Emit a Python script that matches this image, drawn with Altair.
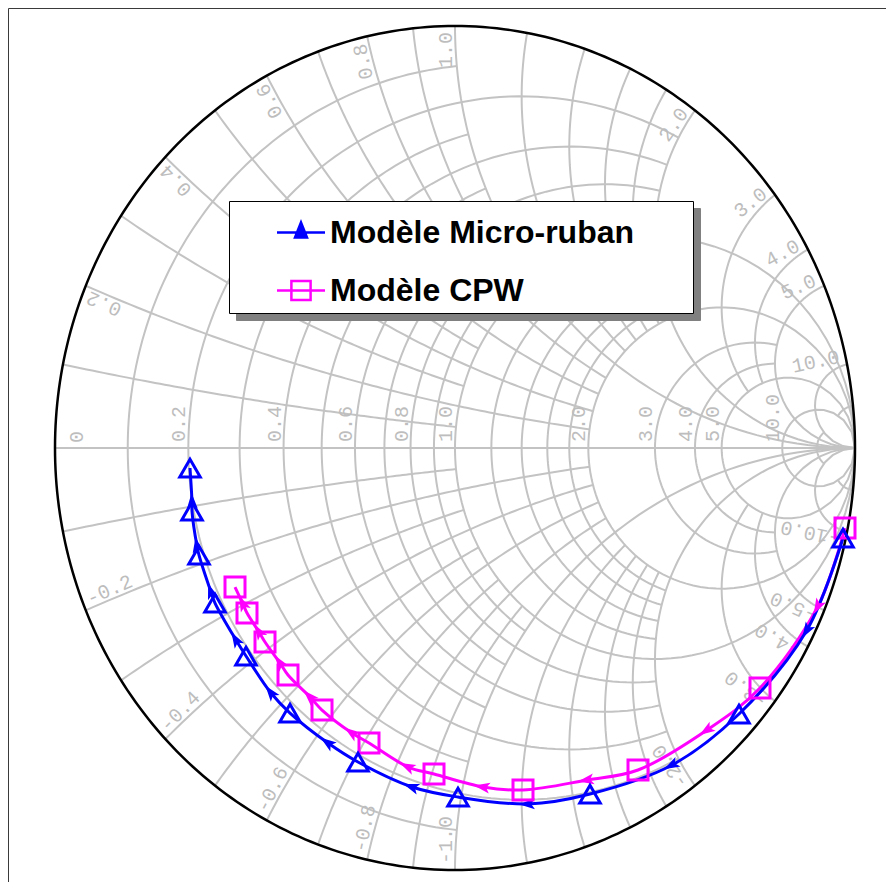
import math
import numpy as np
import pandas as pd
import altair as alt

# ---------------- layout ----------------
W, H = 878, 874
X_DOMAIN = [-1.1175, 1.0775]
Y_DOMAIN = [-1.0284, 1.0427]
SX = W / (X_DOMAIN[1] - X_DOMAIN[0])
SY = H / (Y_DOMAIN[1] - Y_DOMAIN[0])

# ---------------- Smith grid definition ----------------
BIG = 1e6
GRID_R = [0.1, 0.2, 0.3, 0.4, 0.5, 0.6, 0.7, 0.8, 0.9, 1.0,
          1.2, 1.4, 1.6, 1.8, 2.0, 3.0, 4.0, 5.0, 10.0, 20.0]
GRID_R_LIMIT = [1, 2, 1, 2, 1, 2, 1, 2, 1, BIG,
                2, 2, 2, 2, BIG, 5, 5, BIG, BIG, 10]
GRID_X = [0.1, 0.2, 0.3, 0.4, 0.5, 0.6, 0.7, 0.8, 0.9, 1.0,
          1.2, 1.4, 1.6, 1.8, 2.0, 3.0, 4.0, 5.0, 10.0, 20.0]
GRID_X_LIMIT = [1, 2, 1, 2, 1, 2, 1, 2, 1, BIG,
                2, 2, 2, 2, BIG, 5, 5, BIG, BIG, 10]
LABEL_VALUES = [0.2, 0.4, 0.6, 0.8, 1.0, 2.0, 3.0, 4.0, 5.0, 10.0]

# ---------------- data (reflection coefficient, in path order) ----------------
SERIES = ["Modèle Micro-ruban", "Modèle CPW"]

MICRO_RE = [0.970, 0.880, 0.710, 0.5425, 0.3375, 0.1825, 0.0075, -0.1075, -0.2425, -0.3175,
            -0.4125, -0.460, -0.5225, -0.5475, -0.600, -0.610, -0.640, -0.645, -0.6575, -0.6575, -0.6625]
MICRO_IM = [-0.2133, -0.4313, -0.6303, -0.7512, -0.8199, -0.8436, -0.8270, -0.8033, -0.7441, -0.6991,
            -0.6280, -0.5806, -0.4929, -0.4550, -0.3673, -0.3412, -0.2536, -0.2322, -0.1493, -0.1280, -0.0474]
MICRO_KIND = ["m", "a", "m", "a", "m", "a", "m", "a", "m", "a",
              "m", "a", "m", "a", "m", "a", "m", "a", "m", "a", "m"]

CPW_RE = [0.975, 0.9075, 0.7625, 0.630, 0.4575, 0.330, 0.170, 0.070, -0.0525, -0.1175,
          -0.215, -0.2575, -0.3325, -0.3625, -0.4175, -0.4375, -0.475, -0.490, -0.520, -0.530, -0.550]
CPW_IM = [-0.1896, -0.3744, -0.5687, -0.6682, -0.7630, -0.7867, -0.8104, -0.8033, -0.7725, -0.7559,
          -0.6991, -0.6754, -0.6209, -0.5900, -0.5379, -0.5095, -0.4597, -0.4360, -0.3910, -0.3697, -0.3294]
CPW_KIND = ["m", "a", "m", "a", "m", "a", "m", "a", "m", "a",
            "m", "a", "m", "a", "m", "a", "m", "a", "m", "a", "m"]

BLUE = "#0000FF"
MAGENTA = "#FF00FF"
GRID_COLOR = "#C3C3C3"


def smith(r, x):
    z = np.asarray(r, dtype=float) + 1j * np.asarray(x, dtype=float)
    g = (z - 1) / (z + 1)
    return g.real, g.imag


# grid curves
rows = []
cid = 0
for r, lim in zip(GRID_R, GRID_R_LIMIT):
    xs = np.tan(np.linspace(-math.atan(lim), math.atan(lim), 161))
    gx, gy = smith(np.full_like(xs, r), xs)
    rows += [dict(c=cid, k=i, gx=round(a, 4), gy=round(b, 4)) for i, (a, b) in enumerate(zip(gx, gy))]
    cid += 1
for xv, lim in zip(GRID_X, GRID_X_LIMIT):
    rs = np.tan(np.linspace(0, math.atan(lim), 101))
    for s in (1, -1):
        gx, gy = smith(rs, np.full_like(rs, s * xv))
        rows += [dict(c=cid, k=i, gx=round(a, 4), gy=round(b, 4)) for i, (a, b) in enumerate(zip(gx, gy))]
        cid += 1
rows += [dict(c=cid, k=0, gx=-1.0, gy=0.0), dict(c=cid, k=1, gx=1.0, gy=0.0)]
grid_df = pd.DataFrame(rows)

th = np.linspace(0, 2 * math.pi, 361)
rim_df = pd.DataFrame(dict(k=np.arange(len(th)), gx=np.round(np.cos(th), 5), gy=np.round(np.sin(th), 5)))

# labels
lab_left, lab_right = [], []
for v in LABEL_VALUES:
    txt = f"{v:.1f}"
    lab_left.append(dict(gx=(v - 1) / (v + 1), gy=0.0, a=270.0, t=txt))
    d = 1 + v * v
    ang = math.degrees(math.atan2(-(2 * v) * SY, (1 - v * v) * SX)) % 360
    lab_left.append(dict(gx=(v * v - 1) / d, gy=-2 * v / d, a=ang, t="-" + txt))
    ang = math.degrees(math.atan2(-(2 * v) * SY, (v * v - 1) * SX)) % 360
    lab_right.append(dict(gx=(v * v - 1) / d, gy=2 * v / d, a=ang, t=txt))
lab_left_df = pd.DataFrame(lab_left)
lab_right_df = pd.DataFrame(lab_right)
lab_zero_df = pd.DataFrame([dict(gx=-1.0, gy=0.0, a=270.0, t="0")])


def series_df(re, im, kind, name):
    n = len(re)
    out = []
    for i in range(n):
        j0, j1 = max(i - 1, 0), min(i + 1, n - 1)
        sx = (re[j1] - re[j0]) * SX
        sy = -(im[j1] - im[j0]) * SY
        ang = math.degrees(math.atan2(sx, -sy)) % 360
        out.append(dict(k=i, gx=re[i], gy=im[i], kind=kind[i], series=name, ang=round(ang, 2)))
    return pd.DataFrame(out)


micro_df = series_df(MICRO_RE, MICRO_IM, MICRO_KIND, SERIES[0])
cpw_df = series_df(CPW_RE, CPW_IM, CPW_KIND, SERIES[1])
both_df = pd.concat([micro_df, cpw_df], ignore_index=True)

XS = alt.Scale(domain=X_DOMAIN, nice=False, zero=False)
YS = alt.Scale(domain=Y_DOMAIN, nice=False, zero=False)
XAX = alt.Axis(orient="top", labels=False, ticks=False, grid=False, title=None,
               domainColor="#3A3A3A", domainWidth=1)
YAX = alt.Axis(orient="left", labels=False, ticks=False, grid=False, title=None,
               domainColor="#3A3A3A", domainWidth=1)


def X():
    return alt.X("gx:Q", scale=XS, axis=XAX, title=None)


def Y():
    return alt.Y("gy:Q", scale=YS, axis=YAX, title=None)


grid_layer = alt.Chart(grid_df).mark_line(color=GRID_COLOR, strokeWidth=2).encode(
    x=X(), y=Y(), detail="c:N", order="k:Q")
rim_layer = alt.Chart(rim_df).mark_line(color="black", strokeWidth=2.5).encode(
    x=X(), y=Y(), order="k:Q")

TXT = dict(font="Liberation Mono", fontSize=20, color="#BDBDBD", baseline="alphabetic")
lab_l = alt.Chart(lab_left_df).mark_text(align="left", dx=6, dy=-3, **TXT).encode(
    x=X(), y=Y(), text="t:N", angle=alt.Angle("a:Q", scale=None))
lab_r = alt.Chart(lab_right_df).mark_text(align="right", dx=-6, dy=-3, **TXT).encode(
    x=X(), y=Y(), text="t:N", angle=alt.Angle("a:Q", scale=None))
lab_0 = alt.Chart(lab_zero_df).mark_text(align="left", dx=5, dy=28, **TXT).encode(
    x=X(), y=Y(), text="t:N", angle=alt.Angle("a:Q", scale=None))


def line_layer(df, color):
    return alt.Chart(df).mark_line(color=color, strokeWidth=3, interpolate="catmull-rom").encode(
        x=X(), y=Y(), order="k:Q")


ARROW = "M0,-1L0.6,0.75L0,0.35L-0.6,0.75Z"


def arrow_layer(df, color):
    return alt.Chart(df).transform_filter(alt.datum.kind == "a").mark_point(
        shape=ARROW, filled=True, color=color, size=330, opacity=1).encode(
        x=X(), y=Y(), angle=alt.Angle("ang:Q", scale=None))


def marker_layer(df, color, shape, size):
    return alt.Chart(df).transform_filter(alt.datum.kind == "m").mark_point(
        shape=shape, filled=False, color=color, size=size, strokeWidth=3, opacity=1).encode(
        x=X(), y=Y())


TRI_PATH = ("M-1,0H1M0,-0.42L0.25,0.21L-0.25,0.21Z"
            "M0,-0.26L0.15,0.12L-0.15,0.12Z"
            "M0,-0.1L0.06,0.06L-0.06,0.06Z")
SQ_PATH = "M-1,0H1M-0.4,-0.4H0.4V0.4H-0.4Z"

LEG_COMMON = dict(
    title=".", titleOrient="right", titlePadding=52, titleFontSize=2, titleOpacity=0,
    orient="none", direction="vertical",
    labelFont="Liberation Sans", labelFontSize=32, labelFontWeight="bold",
    labelLimit=3000, labelOffset=3.5, symbolOffset=40.5,
    symbolSize=2304, symbolStrokeWidth=2.5, padding=6, rowPadding=16,
)
LX, LY = 221, 193

main_legend = alt.Legend(legendX=LX, legendY=LY, labelColor="black", symbolOpacity=1,
                         fillColor="white", strokeColor="black", **LEG_COMMON)
shadow_legend = alt.Legend(legendX=LX + 7, legendY=LY + 7, labelOpacity=0, symbolOpacity=0,
                           symbolType="M-1,0H1",
                           fillColor="#808080", strokeColor="#808080",
                           labelExpr="datum.value == 's1' ? 'Modèle Micro-ruban' : 'Modèle CPW'",
                           **LEG_COMMON)

shadow_layer = alt.Chart(both_df).transform_filter(alt.datum.kind == "m").transform_calculate(
    sh="datum.series == 'Modèle CPW' ? 's2' : 's1'").mark_point(
    filled=False, opacity=0, strokeWidth=2.5).encode(
    x=X(), y=Y(),
    color=alt.Color("sh:N", scale=alt.Scale(domain=["s1", "s2"], range=["#808080", "#808080"]),
                    legend=shadow_legend),
)

legend_layer = alt.Chart(both_df).transform_filter(alt.datum.kind == "m").mark_point(
    filled=False, opacity=0, strokeWidth=2.5).encode(
    x=X(), y=Y(),
    stroke=alt.Stroke("series:N", scale=alt.Scale(domain=SERIES, range=[BLUE, MAGENTA]),
                      legend=main_legend),
    shape=alt.Shape("series:N", scale=alt.Scale(domain=SERIES, range=[TRI_PATH, SQ_PATH]),
                    legend=main_legend),
)

chart = alt.layer(
    grid_layer, lab_l, lab_r, lab_0, rim_layer,
    line_layer(cpw_df, MAGENTA), line_layer(micro_df, BLUE),
    arrow_layer(cpw_df, MAGENTA), arrow_layer(micro_df, BLUE),
    marker_layer(cpw_df, MAGENTA, "square", 400), marker_layer(micro_df, BLUE, "triangle-up", 420),
    shadow_layer, legend_layer,
).properties(
    width=W, height=H, padding=0, autosize=alt.AutoSizeParams(type="none"),
    background="white",
).configure_view(strokeWidth=0)

chart.save("out.html", embed_options={"renderer": "svg", "actions": False})
